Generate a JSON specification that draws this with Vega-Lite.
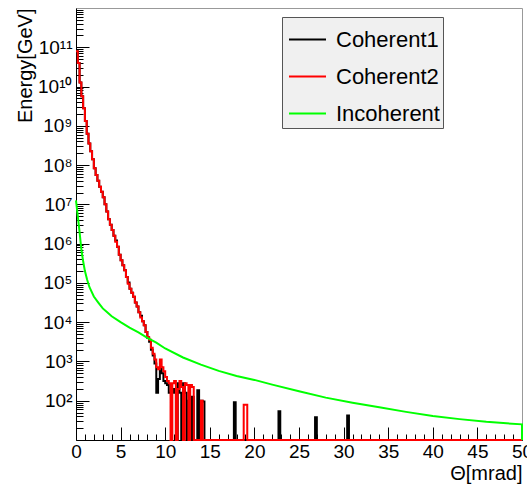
{
  "$schema": "https://vega.github.io/schema/vega-lite/v6.json",
  "width": 446,
  "height": 432,
  "autosize": {"type": "none"},
  "padding": {"left": 76, "top": 8, "right": 5, "bottom": 45},
  "background": "white",
  "config": {
    "view": {"stroke": "#999999", "strokeWidth": 1},
    "font": "Liberation Sans",
    "axis": {
      "grid": false,
      "domainColor": "black",
      "tickColor": "black",
      "labelColor": "black",
      "titleColor": "black",
      "labelFont": "Liberation Sans",
      "titleFont": "Liberation Sans",
      "labelFontSize": 19,
      "titleFontSize": 20,
      "titleFontWeight": "normal"
    }
  },
  "datasets": {
    "hist": [
      {"t": 0, "c1": 7.94e10, "c2": 7.94e10},
      {"t": 0.2, "c1": 3.98e10, "c2": 3.98e10},
      {"t": 0.4, "c1": 1.26e10, "c2": 1.26e10},
      {"t": 0.6, "c1": 5.62e9, "c2": 5.62e9},
      {"t": 0.8, "c1": 2.82e9, "c2": 2.82e9},
      {"t": 1.0, "c1": 1.32e9, "c2": 1.32e9},
      {"t": 1.2, "c1": 6.31e8, "c2": 6.31e8},
      {"t": 1.4, "c1": 3.55e8, "c2": 3.55e8},
      {"t": 1.6, "c1": 2.24e8, "c2": 2.24e8},
      {"t": 1.8, "c1": 1.41e8, "c2": 1.41e8},
      {"t": 2.0, "c1": 8.32e7, "c2": 8.32e7},
      {"t": 2.2, "c1": 5.62e7, "c2": 5.62e7},
      {"t": 2.4, "c1": 3.98e7, "c2": 3.98e7},
      {"t": 2.6, "c1": 2.82e7, "c2": 2.82e7},
      {"t": 2.8, "c1": 2.09e7, "c2": 2.09e7},
      {"t": 3.0, "c1": 1.51e7, "c2": 1.51e7},
      {"t": 3.2, "c1": 1.0e7, "c2": 1.0e7},
      {"t": 3.4, "c1": 6.61e6, "c2": 6.61e6},
      {"t": 3.6, "c1": 4.17e6, "c2": 4.17e6},
      {"t": 3.8, "c1": 3.02e6, "c2": 3.02e6},
      {"t": 4.0, "c1": 2.24e6, "c2": 2.24e6},
      {"t": 4.2, "c1": 1.58e6, "c2": 1.58e6},
      {"t": 4.4, "c1": 1.2e6, "c2": 1.12e6},
      {"t": 4.6, "c1": 8.32e5, "c2": 8.32e5},
      {"t": 4.8, "c1": 5.25e5, "c2": 5.25e5},
      {"t": 5.0, "c1": 3.8e5, "c2": 3.8e5},
      {"t": 5.2, "c1": 2.82e5, "c2": 2.82e5},
      {"t": 5.4, "c1": 2.09e5, "c2": 2.09e5},
      {"t": 5.6, "c1": 1.41e5, "c2": 1.41e5},
      {"t": 5.8, "c1": 1.02e5, "c2": 9.55e4},
      {"t": 6.0, "c1": 7.08e4, "c2": 7.08e4},
      {"t": 6.2, "c1": 5.62e4, "c2": 5.62e4},
      {"t": 6.4, "c1": 4.47e4, "c2": 4.47e4},
      {"t": 6.6, "c1": 3.16e4, "c2": 3.16e4},
      {"t": 6.8, "c1": 2.51e4, "c2": 2.51e4},
      {"t": 7.0, "c1": 1.78e4, "c2": 1.78e4},
      {"t": 7.2, "c1": 1.45e4, "c2": 1.32e4},
      {"t": 7.4, "c1": 1.05e4, "c2": 1.05e4},
      {"t": 7.6, "c1": 8320, "c2": 8320},
      {"t": 7.8, "c1": 5620, "c2": 5620},
      {"t": 8.0, "c1": 3980, "c2": 4170},
      {"t": 8.2, "c1": 3160, "c2": 3550},
      {"t": 8.4, "c1": 2000, "c2": 2240},
      {"t": 8.6, "c1": 1410, "c2": 1580},
      {"t": 8.8, "c1": 890, "c2": 1120},
      {"t": 9.0, "c1": 160, "c2": 710},
      {"t": 9.2, "c1": 355, "c2": 630},
      {"t": 9.4, "c1": 710, "c2": 1120},
      {"t": 9.6, "c1": 500, "c2": 710},
      {"t": 9.8, "c1": 316, "c2": 560},
      {"t": 10.0, "c1": 280, "c2": 400},
      {"t": 10.2, "c1": 250, "c2": 316},
      {"t": 10.4, "c1": 160, "c2": 280},
      {"t": 10.6, "c1": 160, "c2": 10},
      {"t": 10.8, "c1": 200, "c2": 280},
      {"t": 11.0, "c1": 160, "c2": 316},
      {"t": 11.2, "c1": 10, "c2": 10},
      {"t": 11.4, "c1": 280, "c2": 200},
      {"t": 11.6, "c1": 160, "c2": 316},
      {"t": 11.8, "c1": 10, "c2": 224},
      {"t": 12.0, "c1": 280, "c2": 10},
      {"t": 12.2, "c1": 160, "c2": 280},
      {"t": 12.4, "c1": 10, "c2": 250},
      {"t": 12.6, "c1": 100, "c2": 10},
      {"t": 12.8, "c1": 10, "c2": 250},
      {"t": 13.0, "c1": 126, "c2": 224},
      {"t": 13.2, "c1": 10, "c2": 10},
      {"t": 13.6, "c1": 186, "c2": 10},
      {"t": 13.8, "c1": 10, "c2": 10},
      {"t": 14.0, "c1": 100, "c2": 100},
      {"t": 14.2, "c1": 95, "c2": 10},
      {"t": 14.4, "c1": 10, "c2": 10},
      {"t": 17.7, "c1": 91, "c2": 10},
      {"t": 17.9, "c1": 10, "c2": 10},
      {"t": 18.8, "c1": 10, "c2": 79},
      {"t": 19.2, "c1": 10, "c2": 10},
      {"t": 22.7, "c1": 54, "c2": 10},
      {"t": 22.9, "c1": 10, "c2": 10},
      {"t": 26.8, "c1": 38, "c2": 10},
      {"t": 27.0, "c1": 10, "c2": 10},
      {"t": 30.4, "c1": 42, "c2": 10},
      {"t": 30.6, "c1": 10, "c2": 10},
      {"t": 50, "c1": 10, "c2": 10}
    ],
    "incoh": [
      {"n": 1, "t": 0, "e": 1.26e7},
      {"n": 2, "t": 0.2, "e": 5.0e6},
      {"n": 3, "t": 0.4, "e": 2.0e6},
      {"n": 4, "t": 0.6, "e": 7.1e5},
      {"n": 5, "t": 0.8, "e": 3.55e5},
      {"n": 6, "t": 1.0, "e": 2.0e5},
      {"n": 7, "t": 1.25, "e": 1.2e5},
      {"n": 8, "t": 1.5, "e": 7.9e4},
      {"n": 9, "t": 2.0, "e": 4.5e4},
      {"n": 10, "t": 2.5, "e": 3.16e4},
      {"n": 11, "t": 3.0, "e": 2.24e4},
      {"n": 12, "t": 3.5, "e": 1.78e4},
      {"n": 13, "t": 4.0, "e": 1.41e4},
      {"n": 14, "t": 5.0, "e": 1.0e4},
      {"n": 15, "t": 6.0, "e": 7240},
      {"n": 16, "t": 7.0, "e": 5500},
      {"n": 17, "t": 8.0, "e": 3980},
      {"n": 18, "t": 9.0, "e": 3020},
      {"n": 19, "t": 10.0, "e": 2140},
      {"n": 20, "t": 12.0, "e": 1260},
      {"n": 21, "t": 14.0, "e": 830},
      {"n": 22, "t": 16.0, "e": 575},
      {"n": 23, "t": 18.0, "e": 427},
      {"n": 24, "t": 20.0, "e": 339},
      {"n": 25, "t": 22.0, "e": 257},
      {"n": 26, "t": 25.0, "e": 174},
      {"n": 27, "t": 28.0, "e": 120},
      {"n": 28, "t": 31.0, "e": 89},
      {"n": 29, "t": 34.0, "e": 68},
      {"n": 30, "t": 37.0, "e": 52},
      {"n": 31, "t": 40.0, "e": 41},
      {"n": 32, "t": 43.0, "e": 34},
      {"n": 33, "t": 46.0, "e": 29},
      {"n": 34, "t": 50.0, "e": 25},
      {"n": 35, "t": 50.0, "e": 10}
    ]
  },
  "layer": [
    {
      "data": {"name": "hist"},
      "mark": {"type": "line", "interpolate": "step-after", "strokeWidth": 2, "clip": false},
      "encoding": {
        "x": {
          "field": "t", "type": "quantitative",
          "scale": {"domain": [0, 50], "nice": false, "zero": false},
          "axis": {
            "orient": "bottom",
            "values": [0, 5, 10, 15, 20, 25, 30, 35, 40, 45, 50],
            "tickSize": -13,
            "labelPadding": 15,
            "labelFlush": false,
            "labelOverlap": false,
            "title": "Θ[mrad]",
            "titleAnchor": "end",
            "titleAlign": "right",
            "titleBaseline": "alphabetic",
            "titleX": 446,
            "titleY": 39
          }
        },
        "y": {
          "field": "c1", "type": "quantitative",
          "scale": {"type": "log", "domain": [10, 1e12], "nice": false},
          "axis": {
            "orient": "left",
            "values": [100, 1000, 10000, 100000, 1000000, 10000000, 100000000, 1000000000, 10000000000, 100000000000],
            "tickSize": -13,
            "labelPadding": 17,
            "labelOverlap": false,
            "labelFlush": false,
            "labelExpr": "'10' + (datum.value < 500 ? '²' : datum.value < 5e3 ? '³' : datum.value < 5e4 ? '⁴' : datum.value < 5e5 ? '⁵' : datum.value < 5e6 ? '⁶' : datum.value < 5e7 ? '⁷' : datum.value < 5e8 ? '⁸' : datum.value < 5e9 ? '⁹' : datum.value < 5e10 ? '¹⁰' : '¹¹')",
            "title": "Energy[GeV]",
            "titleAngle": -90,
            "titleAlign": "right",
            "titleBaseline": "middle",
            "titleX": -51,
            "titleY": 0
          }
        },
        "color": {
          "datum": "Coherent1", "type": "nominal",
          "scale": {"domain": ["Coherent1", "Coherent2", "Incoherent"], "range": ["#000000", "#ff0000", "#00ff00"]},
          "legend": {
            "orient": "none",
            "legendX": 206,
            "legendY": 9,
            "title": null,
            "fillColor": "#f0f0f0",
            "strokeColor": "#555555",
            "padding": 3,
            "symbolType": "stroke",
            "symbolSize": 1369,
            "symbolStrokeWidth": 2,
            "symbolOffset": 3,
            "labelFont": "Liberation Sans",
            "labelFontSize": 22,
            "labelColor": "black",
            "labelOffset": 9,
            "labelLimit": 400,
            "rowPadding": 6,
            "labelExpr": "datum.label + '\u00a0\u00a0\u00a0\u00a0\u00a0\u00a0\u00a0\u00a0\u00a0'"
          }
        }
      }
    },
    {
      "data": {"name": "hist"},
      "mark": {"type": "line", "interpolate": "step-after", "strokeWidth": 2, "clip": false},
      "encoding": {
        "x": {
          "field": "t", "type": "quantitative",
          "axis": {
            "orient": "bottom",
            "values": [1, 2, 3, 4, 6, 7, 8, 9, 11, 12, 13, 14, 16, 17, 18, 19, 21, 22, 23, 24, 26, 27, 28, 29, 31, 32, 33, 34, 36, 37, 38, 39, 41, 42, 43, 44, 46, 47, 48, 49],
            "tickSize": -6,
            "labels": false,
            "domain": false,
            "title": null
          }
        },
        "y": {
          "field": "c2", "type": "quantitative",
          "axis": {
            "orient": "left",
            "values": [20, 30, 40, 50, 60, 70, 80, 90, 200, 300, 400, 500, 600, 700, 800, 900, 2000, 3000, 4000, 5000, 6000, 7000, 8000, 9000, 20000, 30000, 40000, 50000, 60000, 70000, 80000, 90000, 200000, 300000, 400000, 500000, 600000, 700000, 800000, 900000, 2e6, 3e6, 4e6, 5e6, 6e6, 7e6, 8e6, 9e6, 2e7, 3e7, 4e7, 5e7, 6e7, 7e7, 8e7, 9e7, 2e8, 3e8, 4e8, 5e8, 6e8, 7e8, 8e8, 9e8, 2e9, 3e9, 4e9, 5e9, 6e9, 7e9, 8e9, 9e9, 2e10, 3e10, 4e10, 5e10, 6e10, 7e10, 8e10, 9e10, 2e11, 3e11, 4e11, 5e11, 6e11, 7e11, 8e11, 9e11],
            "tickSize": -7,
            "labels": false,
            "domain": false,
            "title": null
          }
        },
        "color": {"datum": "Coherent2", "type": "nominal"}
      }
    },
    {
      "data": {"name": "incoh"},
      "mark": {"type": "line", "strokeWidth": 2, "clip": false},
      "encoding": {
        "x": {"field": "t", "type": "quantitative", "axis": null},
        "y": {"field": "e", "type": "quantitative", "axis": null},
        "order": {"field": "n", "type": "quantitative"},
        "color": {"datum": "Incoherent", "type": "nominal"}
      }
    }
  ],
  "resolve": {"axis": {"x": "independent", "y": "independent"}}
}
